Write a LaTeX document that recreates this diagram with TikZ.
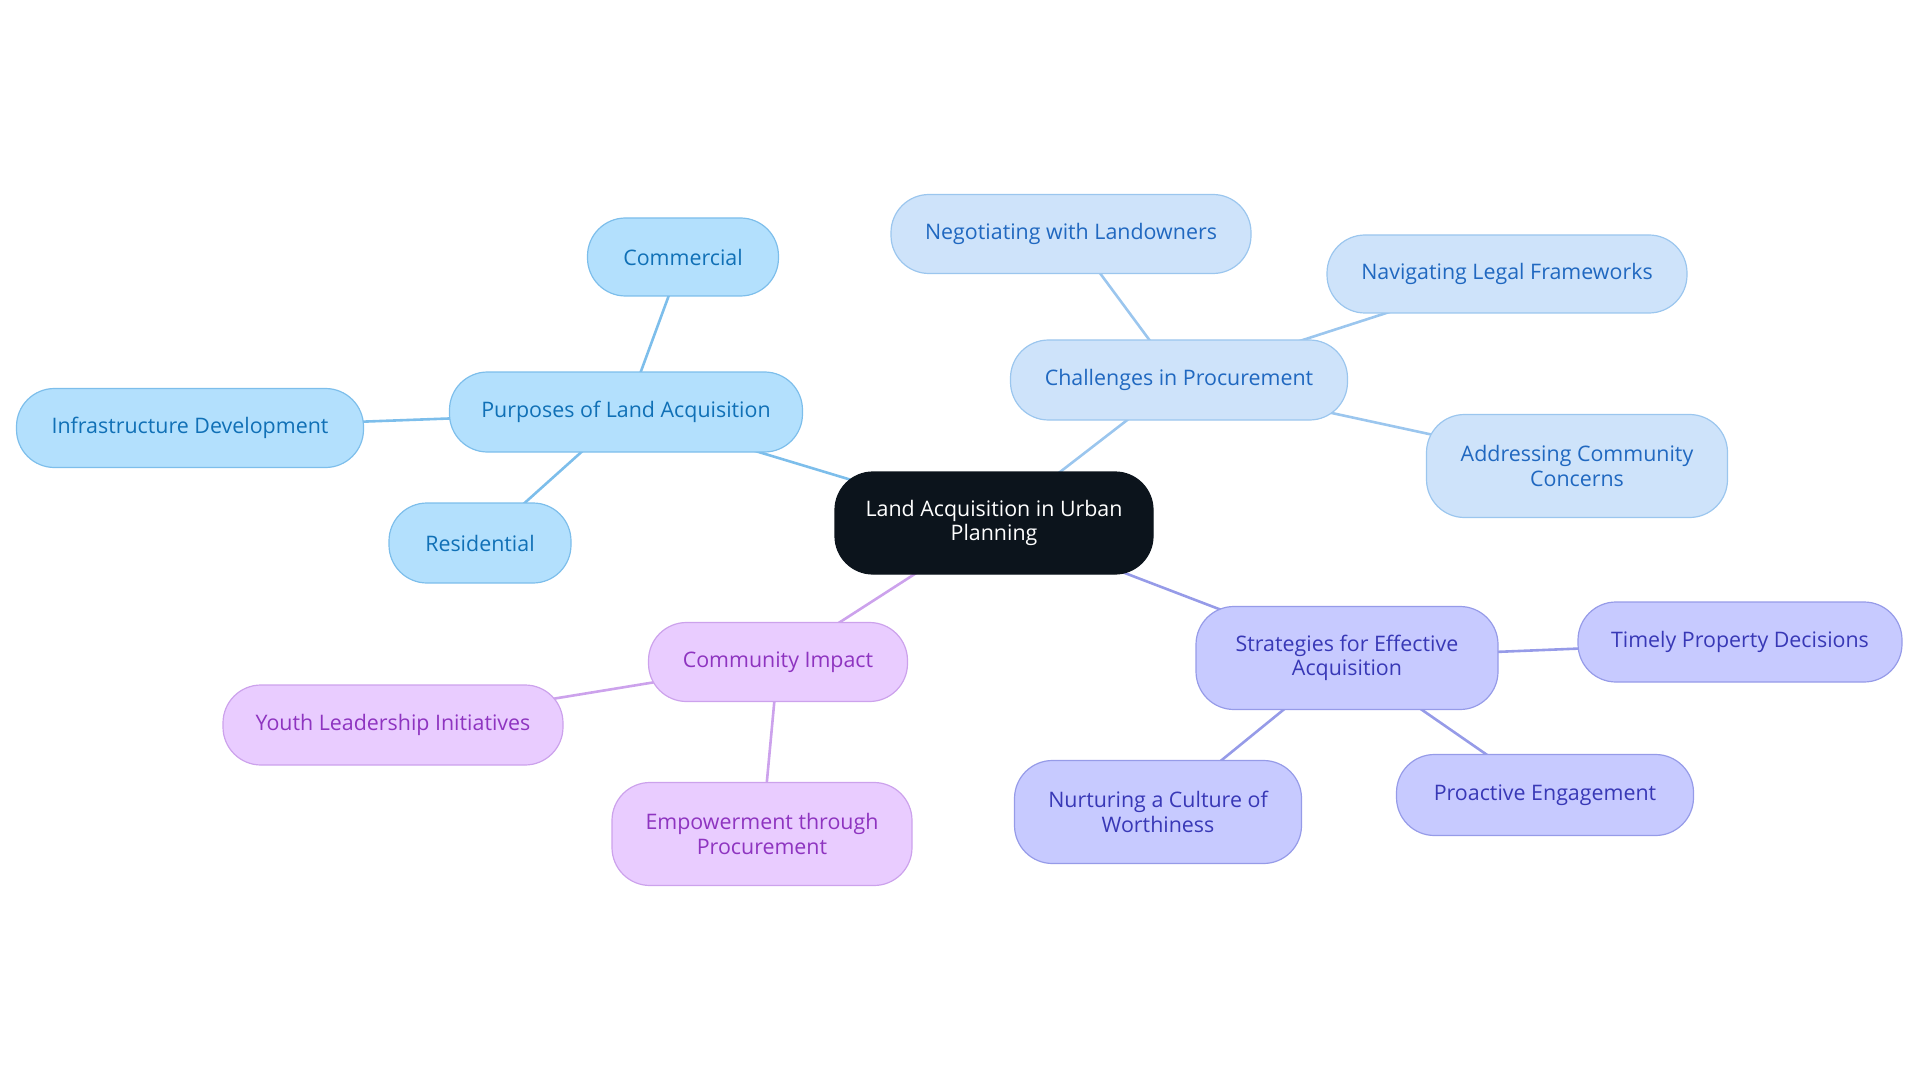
\documentclass[tikz,border=0pt]{standalone}
\usepackage{fontspec}
\setmainfont{Open Sans}
\usetikzlibrary{backgrounds}
\definecolor{bfill}{RGB}{179,224,253}\definecolor{bdraw}{RGB}{125,190,235}\definecolor{btext}{RGB}{16,112,182}
\definecolor{cfill}{RGB}{206,227,250}\definecolor{cdraw}{RGB}{155,198,238}\definecolor{ctext}{RGB}{32,104,192}
\definecolor{sfill}{RGB}{199,202,255}\definecolor{sdraw}{RGB}{150,155,232}\definecolor{stext}{RGB}{56,56,182}
\definecolor{pfill}{RGB}{233,204,255}\definecolor{pdraw}{RGB}{204,162,236}\definecolor{ptext}{RGB}{142,52,192}
\definecolor{rootfill}{RGB}{12,20,28}
\tikzset{
  box/.style={draw, line width=1.2pt, rounded corners=38pt, align=center, inner sep=0pt,
    font=\fontsize{21.4}{24.5}\selectfont},
  bluebox/.style={box, fill=bfill, draw=bdraw, text=btext},
  chbox/.style={box, fill=cfill, draw=cdraw, text=ctext},
  stbox/.style={box, fill=sfill, draw=sdraw, text=stext},
  cmbox/.style={box, fill=pfill, draw=pdraw, text=ptext},
  rootbox/.style={box, fill=rootfill, draw=rootfill, text=white},
  link/.style={line width=2.6pt},
}
\begin{document}
\begin{tikzpicture}[x=1pt,y=-1pt]
\useasboundingbox (0,0) rectangle (1920,1083);
\node[rootbox, minimum width=318pt, minimum height=102pt] (root) at (994,523) {Land Acquisition in Urban\\Planning};
\node[bluebox, minimum width=353pt, minimum height=80pt] (purp) at (626,412) {Purposes of Land Acquisition};
\node[bluebox, minimum width=191pt, minimum height=78pt] (comm) at (683,257) {Commercial};
\node[bluebox, minimum width=347pt, minimum height=79pt] (infra) at (190,428) {Infrastructure Development};
\node[bluebox, minimum width=182pt, minimum height=80pt] (resi) at (480,543) {Residential};
\node[chbox, minimum width=337pt, minimum height=80pt] (chal) at (1179,380) {Challenges in Procurement};
\node[chbox, minimum width=360pt, minimum height=79pt] (nego) at (1071,234) {Negotiating with Landowners};
\node[chbox, minimum width=360pt, minimum height=78pt] (navi) at (1507,274) {Navigating Legal Frameworks};
\node[chbox, minimum width=301pt, minimum height=103pt] (addr) at (1577,466) {Addressing Community\\Concerns};
\node[stbox, minimum width=302pt, minimum height=103pt] (strat) at (1347,658) {Strategies for Effective\\Acquisition};
\node[stbox, minimum width=324pt, minimum height=80pt] (time) at (1740,642) {Timely Property Decisions};
\node[stbox, minimum width=287pt, minimum height=103pt] (nurt) at (1158,812) {Nurturing a Culture of\\Worthiness};
\node[stbox, minimum width=297pt, minimum height=81pt] (proa) at (1545,795) {Proactive Engagement};
\node[cmbox, minimum width=259pt, minimum height=79pt] (cimp) at (778,662) {Community Impact};
\node[cmbox, minimum width=340pt, minimum height=80pt] (youth) at (393,725) {Youth Leadership Initiatives};
\node[cmbox, minimum width=300pt, minimum height=103pt] (empo) at (762,834) {Empowerment through\\Procurement};
\begin{scope}[on background layer]
\draw[link, bdraw] (root.center) -- (purp.center);
\draw[link, bdraw] (purp.center) -- (comm.center);
\draw[link, bdraw] (purp.center) -- (infra.center);
\draw[link, bdraw] (purp.center) -- (resi.center);
\draw[link, cdraw] (root.center) -- (chal.center);
\draw[link, cdraw] (chal.center) -- (nego.center);
\draw[link, cdraw] (chal.center) -- (navi.center);
\draw[link, cdraw] (chal.center) -- (addr.center);
\draw[link, sdraw] (root.center) -- (strat.center);
\draw[link, sdraw] (strat.center) -- (time.center);
\draw[link, sdraw] (strat.center) -- (nurt.center);
\draw[link, sdraw] (strat.center) -- (proa.center);
\draw[link, pdraw] (root.center) -- (cimp.center);
\draw[link, pdraw] (cimp.center) -- (youth.center);
\draw[link, pdraw] (cimp.center) -- (empo.center);
\end{scope}
\end{tikzpicture}
\end{document}
